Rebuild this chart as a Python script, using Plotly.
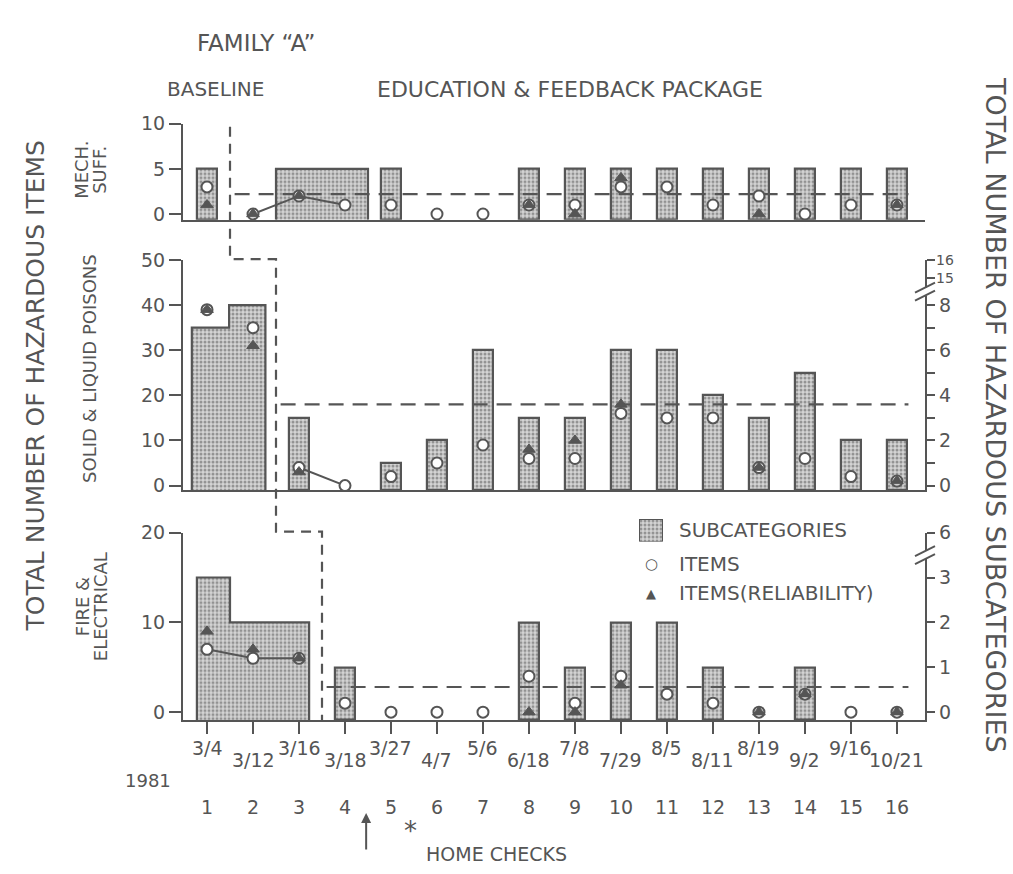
import plotly.graph_objects as go

# ---------------- data ----------------
checks = list(range(1, 17))
check_dates = ["3/4", "3/12", "3/16", "3/18", "3/27", "4/7", "5/6", "6/18",
               "7/8", "7/29", "8/5", "8/11", "8/19", "9/2", "9/16", "10/21"]
year_label = "1981"

mech_subcategories = [1, 0, 1, 1, 1, 0, 0, 1, 1, 1, 1, 1, 1, 1, 1, 1]
mech_items = [3, 0, 2, 1, 1, 0, 0, 1, 1, 3, 3, 1, 2, 0, 1, 1]
mech_reliability = [1, 0, 2, None, None, None, None, 1, 0, 4, None, None, 0, None, None, 1]
mech_mean_line = 2.2

poison_subcategories = [7, 8, 3, 0, 1, 2, 6, 3, 3, 6, 6, 4, 3, 5, 2, 2]
poison_items = [39, 35, 4, 0, 2, 5, 9, 6, 6, 16, 15, 15, 4, 6, 2, 1]
poison_reliability = [39, 31, 3, None, None, None, None, 8, 10, 18, None, None, 4, None, None, 1]
poison_mean_line = 18

fire_subcategories = [3, 2, 2, 1, 0, 0, 0, 2, 1, 2, 2, 1, 0, 1, 0, 0]
fire_items = [7, 6, 6, 1, 0, 0, 0, 4, 1, 4, 2, 1, 0, 2, 0, 0]
fire_reliability = [9, 7, 6, None, None, None, None, 0, 0, 3, None, None, 0, 2, None, 0]
fire_mean_line = 2.8

# first treatment check for each panel (multiple baseline)
mech_phase_start = 2
poison_phase_start = 3
fire_phase_start = 4

ITEMS_PER_SUBCATEGORY = 5

# ---------------- style / geometry ----------------
W, H = 1013, 874
INK = "#555555"
FONT = "DejaVu Sans"


def px(p):
    return p / W


def py(p):
    return 1 - p / H


X_RANGE = [0.478, 16.61]
X_DOM = [px(183), px(925)]

panels = [
    dict(sub=mech_subcategories, items=mech_items, rel=mech_reliability,
         mean=mech_mean_line, start=mech_phase_start,
         run=(3, 4), run_edges=[2.5, 3.5, 4.5], connect=(2, 4),
         yrange=[-0.65, 10], ydom=[py(213), py(115)],
         left_ticks=[0, 5, 10],
         right_vals=[0, 5, 10], right_text=["0", "1", "2"], brk=None, extra=[]),
    dict(sub=poison_subcategories, items=poison_items, rel=poison_reliability,
         mean=poison_mean_line, start=poison_phase_start,
         run=(1, 2), run_edges=[0.67, 1.48, 2.27], connect=(3, 4),
         yrange=[-1.09, 50], ydom=[py(489), py(254)],
         left_ticks=[0, 10, 20, 30, 40, 50],
         right_vals=[0, 5, 10, 15, 20, 25, 30, 35, 40, 46, 50],
         right_text=["0", "", "2", "", "4", "", "6", "", "8", "", ""], brk=43.0,
         extra=[("16", 50), ("15", 46)]),
    dict(sub=fire_subcategories, items=fire_items, rel=fire_reliability,
         mean=fire_mean_line, start=fire_phase_start,
         run=(1, 3), run_edges=[0.78, 1.5, 2.4, 3.22], connect=(1, 3),
         yrange=[-0.87, 20], ydom=[py(723), py(532)],
         left_ticks=[0, 10, 20],
         right_vals=[0, 5, 10, 15, 20], right_text=["0", "1", "2", "3", "6"], brk=17.5,
         extra=[]),
]

pattern = dict(shape=".", fgcolor="#505050", bgcolor="#d4d4d4", size=4, solidity=0.45)
FILL = "#d4d4d4"

fig = go.Figure()
layout = dict(
    width=W, height=H, margin=dict(l=0, r=0, t=0, b=0),
    paper_bgcolor="white", plot_bgcolor="rgba(0,0,0,0)",
    font=dict(family=FONT, color=INK, size=19),
    showlegend=False, bargap=0, barmode="overlay",
)
shapes = []
annotations = []


def note(x, y, text, size, xref="paper", yref="paper", **kw):
    d = dict(x=x, y=y, xref=xref, yref=yref, text=text, showarrow=False,
             xanchor="center", yanchor="middle", font=dict(size=size))
    d.update(kw)
    annotations.append(d)


for k, p in enumerate(panels):
    n = k + 1
    xa = "x" if n == 1 else f"x{n}"
    ya = "y" if n == 1 else f"y{n}"
    yr = f"y{n + 3}"
    ymin = p["yrange"][0]
    r0, r1 = p["run"]

    # single bars
    bx, by = [], []
    for c, s in zip(checks, p["sub"]):
        if s > 0 and not (r0 <= c <= r1):
            bx.append(c)
            by.append(s * ITEMS_PER_SUBCATEGORY - ymin)
    fig.add_trace(go.Bar(x=bx, y=by, base=ymin, width=0.42, xaxis=xa, yaxis=ya,
                         marker=dict(color=FILL, pattern=pattern,
                                     line=dict(color=INK, width=2.2)),
                         hoverinfo="skip"))
    # contiguous run bars
    edges = p["run_edges"]
    run_checks = [c for c in checks if r0 <= c <= r1]
    rx, rw, ry = [], [], []
    ox, oy = [edges[0]], [ymin]
    for i, c in enumerate(run_checks):
        h = p["sub"][c - 1] * ITEMS_PER_SUBCATEGORY
        rx.append((edges[i] + edges[i + 1]) / 2)
        rw.append(edges[i + 1] - edges[i])
        ry.append(h - ymin)
        ox += [edges[i], edges[i + 1]]
        oy += [h, h]
    ox.append(edges[-1])
    oy.append(ymin)
    fig.add_trace(go.Bar(x=rx, y=ry, base=ymin, width=rw, xaxis=xa, yaxis=ya,
                         marker=dict(color=FILL, pattern=pattern, line=dict(width=0)),
                         hoverinfo="skip"))
    fig.add_trace(go.Scatter(x=ox, y=oy, mode="lines", xaxis=xa, yaxis=ya,
                             line=dict(color=INK, width=2.2), hoverinfo="skip"))

    # mean (level) line for treatment phase
    fig.add_trace(go.Scatter(x=[p["start"] - 0.4, 16.25], y=[p["mean"], p["mean"]],
                             mode="lines", xaxis=xa, yaxis=ya,
                             line=dict(color=INK, width=2.2, dash="15px,9px"),
                             hoverinfo="skip"))
    # connecting line between close checks
    c0, c1 = p["connect"]
    fig.add_trace(go.Scatter(x=checks[c0 - 1:c1], y=p["items"][c0 - 1:c1],
                             mode="lines", xaxis=xa, yaxis=ya,
                             line=dict(color=INK, width=2), hoverinfo="skip"))
    # items (open circles)
    fig.add_trace(go.Scatter(x=checks, y=p["items"], mode="markers", xaxis=xa, yaxis=ya,
                             marker=dict(symbol="circle", size=11, color="white",
                                         line=dict(color=INK, width=2)),
                             cliponaxis=False, hoverinfo="skip"))
    # reliability (filled triangles)
    tx = [c for c, v in zip(checks, p["rel"]) if v is not None]
    ty = [v for v in p["rel"] if v is not None]
    fig.add_trace(go.Scatter(x=tx, y=ty, mode="markers", xaxis=xa, yaxis=ya,
                             marker=dict(symbol="triangle-up", size=11, color=INK,
                                         line=dict(color=INK, width=1)),
                             cliponaxis=False, hoverinfo="skip"))

    axkey = "xaxis" if n == 1 else f"xaxis{n}"
    layout[axkey] = dict(domain=X_DOM, range=X_RANGE, anchor=ya, showgrid=False,
                         zeroline=False, showline=True, linecolor=INK, linewidth=2.2,
                         showticklabels=False, fixedrange=True,
                         ticks="outside" if n == 3 else "", tickvals=checks,
                         ticklen=12, tickwidth=2, tickcolor=INK)
    yk = "yaxis" if n == 1 else f"yaxis{n}"
    layout[yk] = dict(domain=p["ydom"], range=p["yrange"], anchor=xa, showgrid=False,
                      zeroline=False, showline=True, linecolor=INK, linewidth=2.2,
                      ticks="outside", ticklen=12, tickwidth=2, tickcolor=INK,
                      tickvals=p["left_ticks"], tickfont=dict(size=19), fixedrange=True)
    layout[f"yaxis{n + 3}"] = dict(overlaying=ya, side="right", anchor=xa,
                                   range=p["yrange"], showgrid=False, zeroline=False,
                                   showline=True, linecolor=INK, linewidth=2.2,
                                   ticks="outside", ticklen=8, tickwidth=2, tickcolor=INK,
                                   tickvals=p["right_vals"], ticktext=p["right_text"],
                                   tickfont=dict(size=19), fixedrange=True)
    for txt, yv in p["extra"]:
        note(X_DOM[1] + px(20), yv, txt, 14, yref=yr)
    # axis break marks
    if p["brk"] is not None:
        shapes.append(dict(type="rect", xref="paper", yref=yr, xsizemode="pixel",
                           ysizemode="pixel", xanchor=X_DOM[1], yanchor=p["brk"],
                           x0=-3, x1=3, y0=-4, y1=4, fillcolor="white",
                           line=dict(width=0), layer="above"))
        for off in (-4, 4):
            shapes.append(dict(type="line", xref="paper", yref=yr, xsizemode="pixel",
                               ysizemode="pixel", xanchor=X_DOM[1], yanchor=p["brk"],
                               x0=-10, x1=10, y0=off - 5, y1=off + 5,
                               line=dict(color=INK, width=2), layer="above"))

# phase-change line (stepped, across the three panels)
tops = [panels[0]["ydom"][1] - 3 / H, panels[1]["ydom"][1] + 1 / H,
        panels[2]["ydom"][1] + 1 / H]
bottom_end = panels[2]["ydom"][0]
xs = [p["start"] - 0.5 for p in panels]
path = (f"M {xs[0]},{tops[0]} L {xs[0]},{tops[1]} L {xs[1]},{tops[1]} "
        f"L {xs[1]},{tops[2]} L {xs[2]},{tops[2]} L {xs[2]},{bottom_end}")
shapes.append(dict(type="path", xref="x3", yref="paper", path=path,
                   line=dict(color=INK, width=2.2, dash="10px,7px")))

# date labels (staggered) and check numbers
for i, (c, d) in enumerate(zip(checks, check_dates)):
    note(c, py(752 if i % 2 == 0 else 764), d, 19, xref="x3")
    note(c, py(812), str(c), 19, xref="x3")

note(px(148), py(785), year_label, 18)
annotations.append(dict(x=4.46, y=py(818), xref="x3", yref="paper", text="",
                        showarrow=True, ax=0, ay=38, arrowhead=2, arrowsize=1,
                        arrowwidth=2, arrowcolor=INK))
note(5.43, py(836), "*", 26, xref="x3")
note(px(424), py(860), "HOME CHECKS", 19, xanchor="left")
note(px(256), py(33), "FAMILY \u201cA\u201d", 23)
note(px(215), py(80), "BASELINE", 20)
note(px(570), py(80), "EDUCATION &amp; FEEDBACK PACKAGE", 22)
note(px(36), py(382), "TOTAL NUMBER OF HAZARDOUS ITEMS", 25, textangle=-90)
note(px(995), py(412), "TOTAL NUMBER OF HAZARDOUS SUBCATEGORIES", 27, textangle=90)
note(px(82), py(162), "MECH.", 18, textangle=-90)
note(px(100), py(162), "SUFF.", 18, textangle=-90)
note(px(90), py(365), "SOLID &amp; LIQUID POISONS", 18, textangle=-90)
note(px(82), py(608), "FIRE &amp;", 18, textangle=-90)
note(px(100), py(608), "ELECTRICAL", 18, textangle=-90)

# legend (manual, so the swatch can be large)
legend_labels = ["SUBCATEGORIES", "ITEMS", "ITEMS(RELIABILITY)"]
legend_rows = [529, 564, 594]
layout["xaxis4"] = dict(domain=[px(639), px(663)], range=[-0.5, 0.5], visible=False,
                        anchor="y7", fixedrange=True)
layout["yaxis7"] = dict(domain=[py(541), py(518)], range=[0, 1], visible=False,
                        anchor="x4", fixedrange=True)
fig.add_trace(go.Bar(x=[0], y=[1], width=1, xaxis="x4", yaxis="y7",
                     marker=dict(color=FILL, pattern=pattern,
                                 line=dict(color=INK, width=2)), hoverinfo="skip"))
for lab, row in zip(legend_labels, legend_rows):
    note(px(677), py(row), lab, 20, xanchor="left")
note(px(651), py(legend_rows[1]), "\u25cb", 15)
note(px(651), py(legend_rows[2]), "\u25b2", 13)

layout["shapes"] = shapes
layout["annotations"] = annotations
fig.update_layout(**layout)
fig.write_html("out.html")
